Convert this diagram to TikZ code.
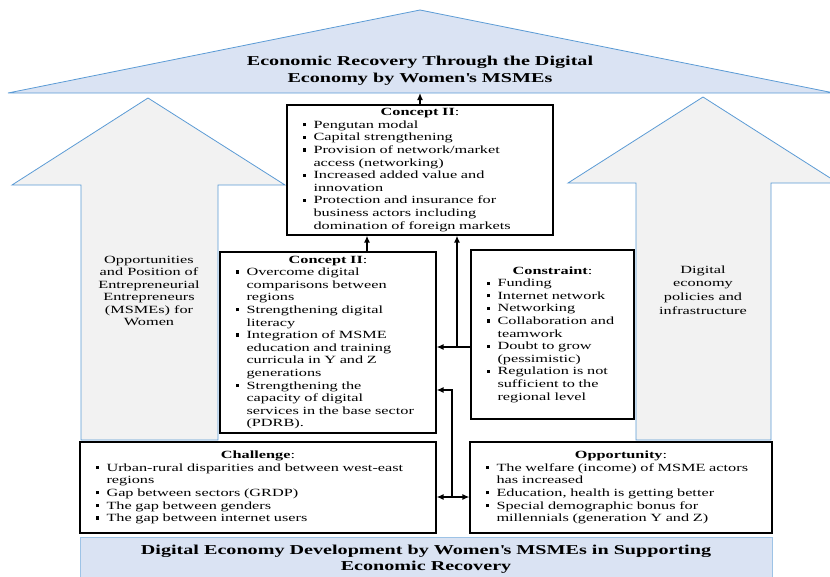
\documentclass[tikz,border=0pt]{standalone}
\usepackage{fontspec}
\setmainfont{Liberation Serif}[FakeStretch=1.48]
\usetikzlibrary{arrows.meta}
\definecolor{roofblue}{HTML}{DAE3F3}
\definecolor{lineblue}{HTML}{5B9BD5}
\definecolor{pillargray}{HTML}{F2F2F2}
\newenvironment{bullets}{\list{\rule[2pt]{3.2pt}{3.2pt}}{\leftmargin=10.5pt\labelwidth=10.5pt
  \labelsep=0pt\itemsep=0pt\parsep=0pt\topsep=0pt\partopsep=0pt\itemindent=0pt
  \def\makelabel##1{##1\hfil}}}{\endlist}
\tikzset{
  infobox/.style={draw,line width=1.2pt,fill=white,align=left,inner xsep=16pt,inner ysep=0pt,
    font=\fontsize{11}{12.6}\selectfont},
  pillar/.style={fill=pillargray,draw=lineblue,line width=0.8pt},
  link/.style={line width=1.3pt,-{Latex[length=7pt,width=6pt]}}
}
\begin{document}
\begin{tikzpicture}[x=1pt,y=-1pt]
\useasboundingbox (0,0) rectangle (830,576);
\draw[fill=roofblue,draw=lineblue,line width=0.8pt] (8,93) -- (420,10) -- (834,93) -- cycle;
\node[align=center,font=\fontsize{13.6}{17}\selectfont\bfseries] (goal) at (420,71)
  {Economic Recovery Through the Digital\\Economy by Women\textquotesingle s MSMEs};
\draw[pillar] (81,440) -- (81,185) -- (12,185) -- (148,98) -- (285,185) -- (218,185) -- (218,440) -- cycle;
\draw[pillar] (636,440) -- (636,183) -- (568,183) -- (703,97) -- (838,183) -- (771,183) -- (771,440) -- cycle;
\node[align=center,font=\fontsize{11}{12.4}\selectfont] (position) at (149,291)
  {Opportunities\\and Position of\\Entrepreneurial\\Entrepreneurs\\(MSMEs) for\\Women};
\node[align=center,font=\fontsize{11}{13.6}\selectfont] (policy) at (703,290)
  {Digital\\economy\\policies and\\infrastructure};
\node[fill=roofblue,draw=lineblue!60,line width=1pt,minimum width=692pt,minimum height=44pt,
  align=center,font=\fontsize{13.6}{16.5}\selectfont\bfseries] (base) at (426,559)
  {Digital Economy Development by Women\textquotesingle s MSMEs in Supporting\\Economic Recovery};
\node[infobox,text width=234pt,minimum height=130pt] (ctop) at (420,170)
  {{\centering\textbf{Concept II}:\par}
   \begin{bullets}
   \item Pengutan modal
   \item Capital strengthening
   \item Provision of network/market\newline access (networking)
   \item Increased added value and\newline innovation
   \item Protection and insurance for\newline business actors including\newline domination of foreign markets
   \end{bullets}};
\node[infobox,text width=184pt,minimum height=181pt] (clow) at (328,342.5)
  {{\centering\textbf{Concept II}:\par}
   \begin{bullets}
   \item Overcome digital\newline comparisons between\newline regions
   \item Strengthening digital\newline literacy
   \item Integration of MSME\newline education and training\newline curricula in Y and Z\newline generations
   \item Strengthening the\newline capacity of digital\newline services in the base sector\newline (PDRB).
   \end{bullets}};
\node[infobox,text width=131pt,minimum height=169pt] (cons) at (552.5,334.5)
  {{\centering\textbf{Constraint}:\par}
   \begin{bullets}
   \item Funding
   \item Internet network
   \item Networking
   \item Collaboration and\newline teamwork
   \item Doubt to grow\newline (pessimistic)
   \item Regulation is not\newline sufficient to the\newline regional level
   \end{bullets}};
\node[infobox,text width=324pt,minimum height=91pt] (chal) at (258,487.5)
  {{\centering\textbf{Challenge}:\par}
   \begin{bullets}
   \item Urban-rural disparities and between west-east\newline regions
   \item Gap between sectors (GRDP)
   \item The gap between genders
   \item The gap between internet users
   \end{bullets}};
\node[infobox,text width=270pt,minimum height=91pt] (opp) at (621,487.5)
  {{\centering\textbf{Opportunity}:\par}
   \begin{bullets}
   \item The welfare (income) of MSME actors\newline has increased
   \item Education, health is getting better
   \item Special demographic bonus for\newline millennials (generation Y and Z)
   \end{bullets}};
\coordinate (roofbase) at (420,93);
\coordinate (a1) at (367,0);
\coordinate (j1) at (457,347);
\coordinate (j2) at (452,497);
\coordinate (j3) at (452,390);
\draw[link] (ctop.north) -- (roofbase);
\draw[link] (clow.north -| a1) -- (ctop.south -| a1);
\draw[link] (cons.west |- j1) -- (clow.east |- j1);
\draw[link] (j1) -- (ctop.south -| j1);
\draw[link,{Latex[length=7pt,width=6pt]}-{Latex[length=7pt,width=6pt]}] (chal.east |- j2) -- (opp.west |- j2);
\draw[link] (j2) -- (j3) -- (clow.east |- j3);
\end{tikzpicture}
\end{document}
